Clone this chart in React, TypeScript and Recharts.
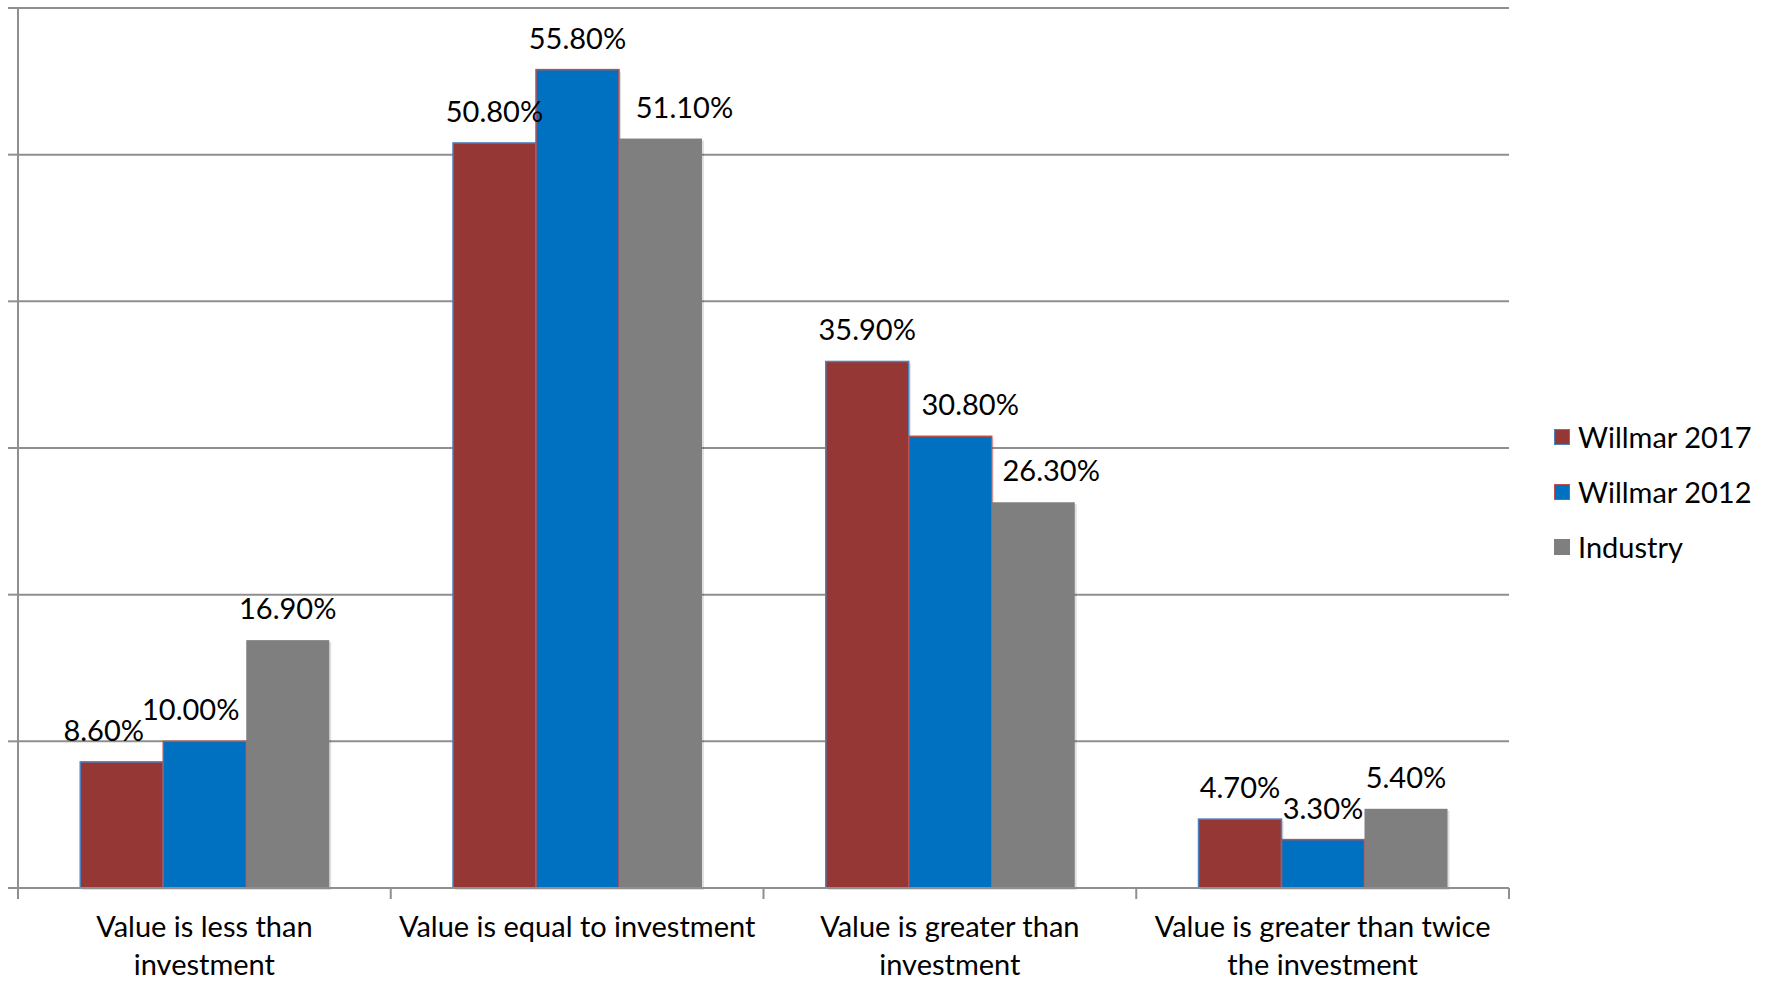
import React from 'react';
import { BarChart, Bar, XAxis, YAxis, CartesianGrid, LabelList } from 'recharts';

// ---------- data ----------
const categories = [
  'Value is less than investment',
  'Value is equal to investment',
  'Value is greater than investment',
  'Value is greater than twice the investment',
];
const categoryLines = [
  ['Value is less than', 'investment'],
  ['Value is equal to investment'],
  ['Value is greater than', 'investment'],
  ['Value is greater than twice', 'the investment'],
];
const willmar2017 = [8.6, 50.8, 35.9, 4.7];
const willmar2012 = [10.0, 55.8, 30.8, 3.3];
const industry = [16.9, 51.1, 26.3, 5.4];
const seriesNames = ['Willmar 2017', 'Willmar 2012', 'Industry'];
const yTicks = [0, 10, 20, 30, 40, 50, 60];

// ---------- layout / style ----------
const W = 1771;
const H = 981;
const MARGIN = { top: 8, right: 262, bottom: 0, left: 8 };
const Y_AXIS_W = 10;
const X_AXIS_H = 93;
const PLOT_LEFT = MARGIN.left + Y_AXIS_W;
const PLOT_RIGHT = W - MARGIN.right;
const PLOT_BOTTOM = H - MARGIN.bottom - X_AXIS_H;
const BAND = (PLOT_RIGHT - PLOT_LEFT) / categories.length;
const FONT = 'Lato, "Open Sans", sans-serif';
const FS = 29;
const GRID = '#8f8f8f';

const COLORS = {
  w2017: { fill: '#953735', stroke: '#4F81BD' },
  w2012: { fill: '#0070C0', stroke: '#C0504D' },
  industry: { fill: '#7F7F7F', stroke: 'none' },
};
// manual label nudges (Excel moved overlapping labels)
const LABEL_DX: Record<string, number[]> = {
  w2017: [-18, 0, 0, 0],
  w2012: [-14, 0, 20, 0],
  industry: [0, 24, 18, 0],
};

const data = categories.map((c, i) => ({
  name: c,
  w2017: willmar2017[i],
  w2012: willmar2012[i],
  industry: industry[i],
}));

const fmt = (v: number) => `${v.toFixed(2)}%`;

const makeLabel = (key: string) => (props: any) => {
  const { x, y, width, value, index } = props;
  const cx = Number(x) + Number(width) / 2 + (LABEL_DX[key][index] || 0);
  return (
    <text
      x={cx}
      y={Number(y) - 21}
      textAnchor="middle"
      fontFamily={FONT}
      fontSize={FS}
      fill="#000"
    >
      {fmt(Number(value))}
    </text>
  );
};

const ShadowBar = (props: any) => {
  const { x, y, width, height, fill, stroke } = props;
  if (!height || height <= 0) return null;
  return (
    <g>
      <rect x={x + 2} y={y + 2} width={width} height={height} fill="rgba(0,0,0,0.12)" />
      <rect
        x={x}
        y={y}
        width={width}
        height={height}
        fill={fill}
        stroke={stroke}
        strokeWidth={stroke && stroke !== 'none' ? 1.5 : 0}
      />
    </g>
  );
};

const CategoryTick = (props: any) => {
  const { x, index } = props;
  const lines = categoryLines[index] || [];
  const left = x - BAND / 2;
  const right = x + BAND / 2;
  return (
    <g>
      <line x1={left} y1={PLOT_BOTTOM} x2={left} y2={PLOT_BOTTOM + 11} stroke={GRID} strokeWidth={2} />
      {index === categories.length - 1 && (
        <line x1={right} y1={PLOT_BOTTOM} x2={right} y2={PLOT_BOTTOM + 11} stroke={GRID} strokeWidth={2} />
      )}
      {lines.map((l, i) => (
        <text
          key={i}
          x={x}
          y={PLOT_BOTTOM + 49 + i * 38}
          textAnchor="middle"
          fontFamily={FONT}
          fontSize={FS}
          fill="#000"
        >
          {l}
        </text>
      ))}
    </g>
  );
};

const legendItems = [
  { name: seriesNames[0], ...COLORS.w2017 },
  { name: seriesNames[1], ...COLORS.w2012 },
  { name: seriesNames[2], ...COLORS.industry },
];

export default function App() {
  return (
    <div style={{ position: 'absolute', left: 0, top: 0, width: W, height: H, background: '#fff' }}>
      <BarChart
        width={W}
        height={H}
        data={data}
        margin={MARGIN}
        barCategoryGap="16.7%"
        barGap={0}
      >
        <CartesianGrid horizontal vertical={false} stroke={GRID} strokeWidth={2} />
        <XAxis
          dataKey="name"
          height={X_AXIS_H}
          axisLine={{ stroke: GRID, strokeWidth: 2 }}
          tickLine={false}
          tick={<CategoryTick />}
          interval={0}
        />
        <YAxis
          width={Y_AXIS_W}
          domain={[0, 60]}
          ticks={yTicks}
          tickSize={10}
          tickFormatter={() => ''}
          axisLine={{ stroke: GRID, strokeWidth: 2 }}
          tickLine={{ stroke: GRID, strokeWidth: 2 }}
        />
        <Bar dataKey="w2017" name={seriesNames[0]} fill={COLORS.w2017.fill} stroke={COLORS.w2017.stroke} shape={<ShadowBar />} isAnimationActive={false}>
          <LabelList dataKey="w2017" content={makeLabel('w2017')} />
        </Bar>
        <Bar dataKey="w2012" name={seriesNames[1]} fill={COLORS.w2012.fill} stroke={COLORS.w2012.stroke} shape={<ShadowBar />} isAnimationActive={false}>
          <LabelList dataKey="w2012" content={makeLabel('w2012')} />
        </Bar>
        <Bar dataKey="industry" name={seriesNames[2]} fill={COLORS.industry.fill} stroke="none" shape={<ShadowBar />} isAnimationActive={false}>
          <LabelList dataKey="industry" content={makeLabel('industry')} />
        </Bar>
      </BarChart>
      <div style={{ position: 'absolute', left: 1554, top: 409, fontFamily: FONT, fontSize: FS, color: '#000' }}>
        {legendItems.map((it) => (
          <div key={it.name} style={{ height: 55, display: 'flex', alignItems: 'center', whiteSpace: 'nowrap' }}>
            <span
              style={{
                display: 'inline-block',
                width: 14,
                height: 14,
                background: it.fill,
                border: it.stroke !== 'none' ? `1.5px solid ${it.stroke}` : '1.5px solid transparent',
                marginRight: 8,
              }}
            />
            <span>{it.name}</span>
          </div>
        ))}
      </div>
    </div>
  );
}
